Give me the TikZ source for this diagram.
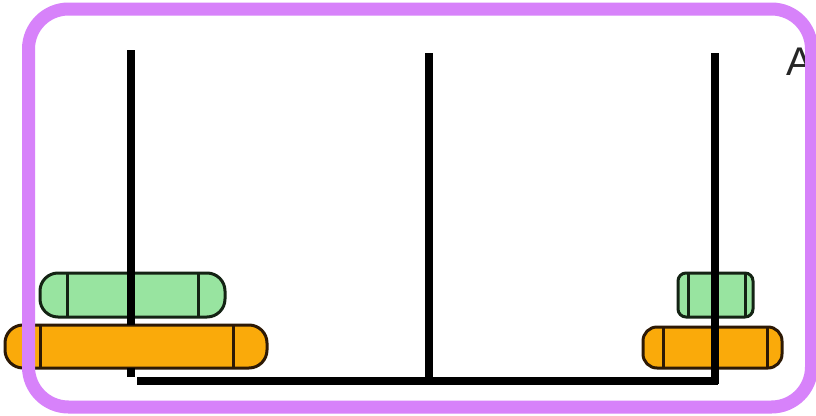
\documentclass[tikz,border=0pt]{standalone}
\usepackage{fontspec}
\setmainfont{Liberation Sans}
\definecolor{frame}{RGB}{215,130,250}
\definecolor{diskgreen}{RGB}{152,228,160}
\definecolor{diskorange}{RGB}{250,170,10}
\definecolor{rimgreen}{RGB}{20,35,20}
\definecolor{rimorange}{RGB}{45,25,5}
\tikzset{
  rod/.style={line width=7.5pt, black},
  greendisk/.style={fill=diskgreen, draw=rimgreen, line width=3pt},
  orangedisk/.style={fill=diskorange, draw=rimorange, line width=3pt},
  greenband/.style={draw=rimgreen, line width=3pt},
  orangeband/.style={draw=rimorange, line width=3pt},
}
% disk: x-left, x-right, y-top, y-bottom, inner line 1, inner line 2, style prefix, end rounding
\newcommand{\hanoidisk}[8]{%
  \path[#7disk, rounded corners=#8] (#1,#3) rectangle (#2,#4);
  \draw[#7band] (#5,#3) -- (#5,#4);
  \draw[#7band] (#6,#3) -- (#6,#4);
}
\begin{document}
\begin{tikzpicture}[x=1pt,y=-1pt]
  \useasboundingbox (0,0) rectangle (816,415);
  \fill[white] (0,0) rectangle (816,415);

  % label at the top right, partly under the frame
  \node[anchor=base west, inner sep=0pt, font=\fontsize{40}{40}\selectfont, text=black!85] (lbl) at (786,75) {A};

  % disks
  \hanoidisk{5}{267}{325}{368}{40}{233}{orange}{18pt}
  \hanoidisk{40}{225}{273}{317}{67}{198}{green}{18pt}
  \hanoidisk{643}{782}{327}{368}{663}{767}{orange}{14pt}
  \hanoidisk{678}{753}{273}{317}{688}{745}{green}{8pt}

  % rods and base
  \coordinate (lt) at (131,50);
  \coordinate (lm) at (131,325);
  \coordinate (lb1) at (131,368);
  \coordinate (lb2) at (131,377);
  \coordinate (mt) at (429,53);
  \coordinate (mb) at (429,381);
  \coordinate (rt) at (715,53);
  \coordinate (rb) at (715,384);
  \coordinate (bl) at (137,381);
  \coordinate (br) at (718,381);
  \draw[rod] (lt) -- (lm);
  \draw[rod] (lb1) -- (lb2);
  \draw[rod] (mt) -- (mb);
  \draw[rod] (rt) -- (rb);
  \draw[rod] (bl) -- (br);

  % frame
  \draw[frame, line width=13pt, rounded corners=40pt] (28.5,9) rectangle (811.5,407);
\end{tikzpicture}
\end{document}
